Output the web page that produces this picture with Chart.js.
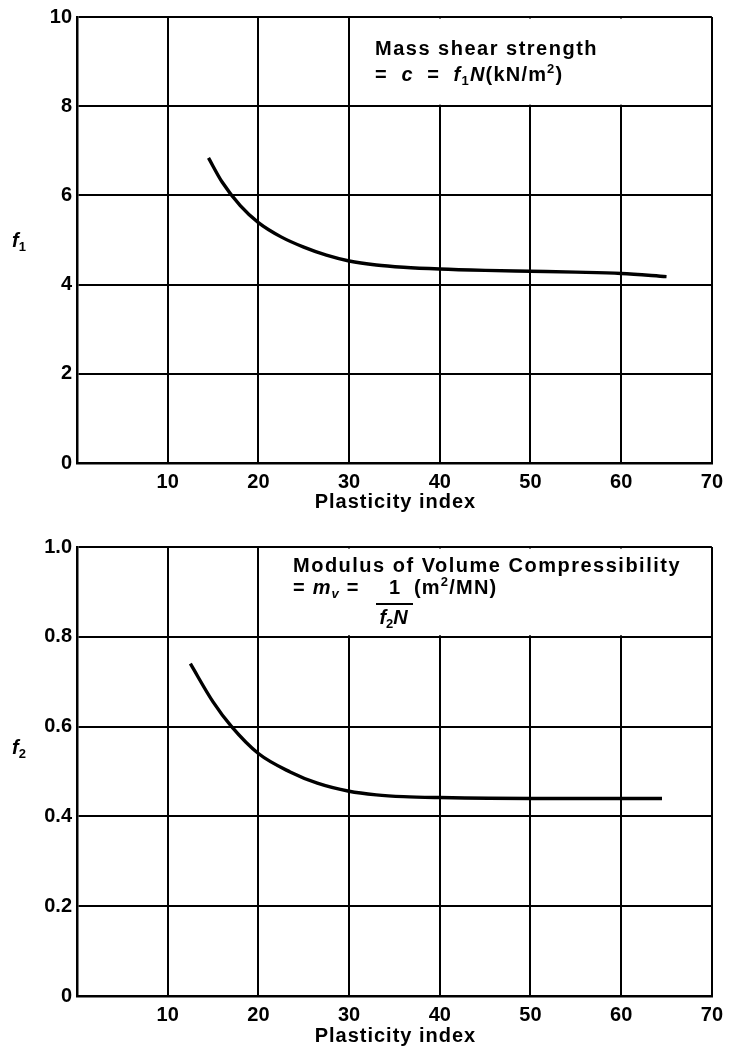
<!DOCTYPE html>
<html>
<head>
<meta charset="utf-8">
<script src="https://cdn.jsdelivr.net/npm/chart.js@4.4.0/dist/chart.umd.min.js"></script>
<style>
  body { margin: 0; background: #fff; }
  canvas { position: absolute; left: 0; }
  #top { top: 0; }
  #bottom { top: 525px; }
</style>
</head>
<body>
<canvas id="top" width="730" height="525"></canvas>
<canvas id="bottom" width="730" height="528"></canvas>
<script>
// values
const piTop = [14.5, 16, 18, 20, 22.5, 25, 27.5, 30, 33, 36, 40, 45, 50, 55, 60, 65];
const f1Vals = [6.84, 6.30, 5.77, 5.39, 5.07, 4.84, 4.66, 4.53, 4.44, 4.39, 4.35, 4.32, 4.30, 4.28, 4.25, 4.18];
const piBottom = [12.5, 15, 17, 20, 23.5, 26.5, 30, 33, 36, 40, 50, 60, 64.5];
const f2Vals = [0.74, 0.655, 0.601, 0.540, 0.499, 0.474, 0.456, 0.448, 0.444, 0.442, 0.44, 0.44, 0.44];

const xTicks = [10, 20, 30, 40, 50, 60, 70];
const xTitle = 'Plasticity index';

const FAM = '"Liberation Sans", Arial, sans-serif';
const B = 'bold 20px ' + FAM;
const BI = 'italic bold 20px ' + FAM;
const SM = 'bold 13px ' + FAM;
const SMI = 'italic bold 13px ' + FAM;

function drawRuns(ctx, x, y, runs, sp) {
    ctx.letterSpacing = (sp || 0) + 'px';
    runs.forEach(r => {
        ctx.font = r[1];
        ctx.fillText(r[0], x, y + (r[2] || 0));
        x += ctx.measureText(r[0]).width;
    });
    return x;
}

// white out the grid inside the note box
function boxPlugin(x0, x1, y0, y1) {
    return {
        id: 'box',
        beforeDatasetsDraw(chart) {
            const ctx = chart.ctx;
            const xs = chart.scales.x, ys = chart.scales.y;
            const l = xs.getPixelForValue(x0) + 1.5;
            const r = xs.getPixelForValue(x1) - 1.5;
            const t = ys.getPixelForValue(y1) + 1.5;
            const b = ys.getPixelForValue(y0) - 1.5;
            ctx.save();
            ctx.fillStyle = '#fff';
            ctx.fillRect(l, t, r - l, b - t);
            ctx.restore();
        }
    };
}

function labelsPlugin(drawNote, sub, subVal, titleGap) {
    return {
        id: 'labels',
        afterDraw(chart) {
            const ctx = chart.ctx;
            const a = chart.chartArea;
            ctx.save();
            ctx.fillStyle = '#000';
            ctx.textBaseline = 'alphabetic';
            // x axis title
            ctx.font = B;
            ctx.letterSpacing = '1px';
            ctx.textAlign = 'center';
            ctx.fillText(xTitle, (a.left + a.right) / 2 + 1, a.bottom + titleGap);
            ctx.textAlign = 'left';
            // y axis name
            const yy = chart.scales.y.getPixelForValue(subVal) + 7;
            drawRuns(ctx, 12, yy, [['f', BI], [sub, SM, 4]]);
            drawNote(ctx, chart);
            ctx.restore();
        }
    };
}

function noteTop(ctx, chart) {
    const x = 375;
    drawRuns(ctx, x, 55, [['Mass shear strength', B]], 1.5);
    drawRuns(ctx, x, 81, [
        ['=  ', B], ['c', BI], ['  =  ', B], ['f', BI], ['1', SM, 4], ['N', BI],
        ['(kN/m', B], ['2', SM, -8], [')', B]
    ], 1.2);
}

function noteBottom(ctx, chart) {
    const x = 293;
    drawRuns(ctx, x, 47, [['Modulus of Volume Compressibility', B]], 1.5);
    drawRuns(ctx, x, 69, [['= ', B], ['m', BI], ['v', SMI, 4], [' =', B]], 1.2);
    const cx = 376, w = 37;
    ctx.letterSpacing = '0px';
    ctx.font = B;
    ctx.textAlign = 'center';
    ctx.fillText('1', cx + w / 2, 69);
    ctx.textAlign = 'left';
    ctx.fillRect(cx, 78, w, 2);
    ctx.font = BI;
    const dw = ctx.measureText('f').width + 9 + ctx.measureText('N').width;
    drawRuns(ctx, cx + (w - dw) / 2, 99, [['f', BI], ['2', SM, 4], ['N', BI]]);
    drawRuns(ctx, cx + w + 1, 69, [['(m', B], ['2', SM, -8], ['/MN)', B]], 1.2);
}

function makeChart(id, xs, ys, yMax, yStep, yFmt, pad, xH, plugins) {
    const pts = xs.map((v, i) => ({ x: v, y: ys[i] }));
    return new Chart(document.getElementById(id), {
        type: 'line',
        data: {
            datasets: [{
                data: pts,
                borderColor: '#000',
                borderWidth: 3.4,
                pointRadius: 0,
                cubicInterpolationMode: 'monotone',
                fill: false
            }]
        },
        options: {
            responsive: false,
            animation: false,
            devicePixelRatio: 1,
            layout: { padding: pad },
            plugins: { legend: { display: false }, tooltip: { enabled: false } },
            scales: {
                x: {
                    type: 'linear', min: 0, max: 70,
                    afterFit: s => { s.height = xH; },
                    afterBuildTicks: s => { s.ticks = [0].concat(xTicks).map(v => ({ value: v })); },
                    grid: { color: '#000', lineWidth: 2, drawTicks: false },
                    border: { color: '#000', width: 2.5 },
                    ticks: {
                        padding: 7, color: '#000', maxRotation: 0,
                        font: { family: FAM, size: 20, weight: 'bold' },
                        callback: v => v === 0 ? '' : v
                    }
                },
                y: {
                    min: 0, max: yMax,
                    afterFit: s => { s.width = 77; },
                    grid: { color: '#000', lineWidth: 2, drawTicks: false },
                    border: { color: '#000', width: 2.5 },
                    ticks: {
                        stepSize: yStep, padding: 5, color: '#000',
                        font: { family: FAM, size: 20, weight: 'bold' },
                        callback: yFmt
                    }
                }
            }
        },
        plugins: plugins
    });
}

makeChart('top', piTop, f1Vals, 10, 2, v => String(Math.round(v)),
    { left: 0, right: 14, top: 16, bottom: 0 }, 62,
    [boxPlugin(30, 70, 8, 10), labelsPlugin(noteTop, '1', 5.0, 45)]);

makeChart('bottom', piBottom, f2Vals, 1, 0.2, v => v === 0 ? '0' : v.toFixed(1),
    { left: 0, right: 13, top: 22, bottom: 0 }, 57,
    [boxPlugin(20, 70, 0.8, 1), labelsPlugin(noteBottom, '2', 0.555, 46)]);
</script>
</body>
</html>
